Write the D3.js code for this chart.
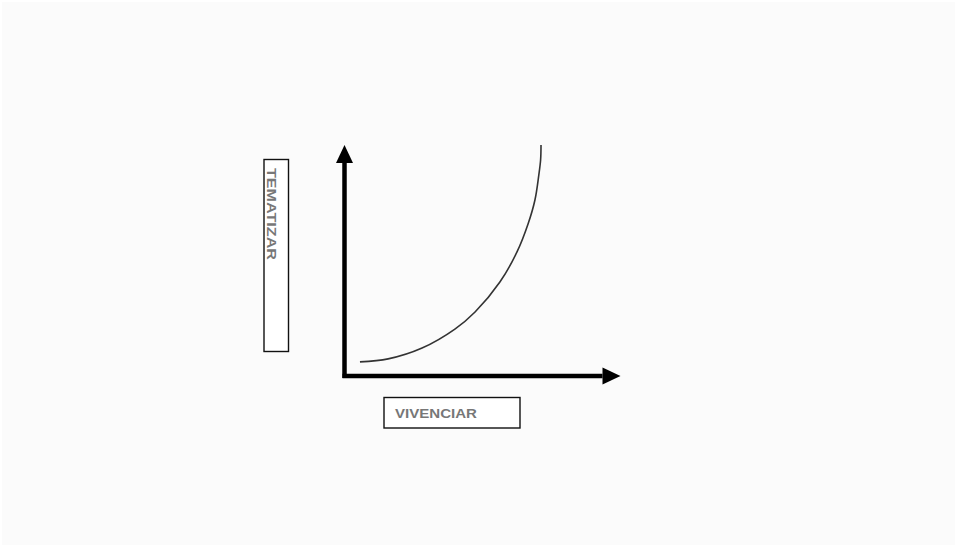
<!DOCTYPE html>
<html>
<head>
<meta charset="utf-8">
<script src="https://cdn.jsdelivr.net/npm/d3@7"></script>
<style>
  html, body { margin: 0; padding: 0; background: #fff; }
  #chart { display: block; }
</style>
</head>
<body>
<svg id="chart" width="957" height="547"></svg>
<script>
'use strict';

// axis labels
const xLabel = "VIVENCIAR",
      yLabel = "TEMATIZAR";

// curve (axis units 0..100)
const curveX = [5.6, 15.8, 28.1, 40.0, 47.3, 56.3, 62.5, 66.5, 69.0, 70.4, 71.05, 71.2];
const curveY = [6.1, 7.4, 12.1, 20.3, 27.7, 40.7, 53.7, 65.8, 76.2, 87.0, 93.5, 100];

const width = 957, height = 547;
const svg = d3.select("#chart");

svg.append("rect")
  .attr("x", 2).attr("y", 2)
  .attr("width", width - 4).attr("height", height - 4)
  .attr("fill", "#fbfbfb");

// 100 = arrow tips
const x = d3.scaleLinear([0, 100], [344.5, 620.5]),
      y = d3.scaleLinear([0, 100], [376, 145]);

const head = 18, half = 8.5;

// vertical axis
svg.append("line")
  .attr("x1", x(0)).attr("x2", x(0))
  .attr("y1", y(0) + 2).attr("y2", y(100) + head)
  .attr("stroke", "#000").attr("stroke-width", 4.5);
svg.append("path")
  .attr("d", `M${x(0)},${y(100)} L${x(0) + half},${y(100) + head} L${x(0) - half},${y(100) + head} Z`)
  .attr("fill", "#000");

// horizontal axis
svg.append("line")
  .attr("x1", x(0) - 2).attr("x2", x(100) - head)
  .attr("y1", y(0)).attr("y2", y(0))
  .attr("stroke", "#000").attr("stroke-width", 4.5);
svg.append("path")
  .attr("d", `M${x(100)},${y(0)} L${x(100) - head},${y(0) - half} L${x(100) - head},${y(0) + half} Z`)
  .attr("fill", "#000");

// curve
const line = d3.line()
  .x(d => x(d[0]))
  .y(d => y(d[1]))
  .curve(d3.curveCatmullRom.alpha(0.5));
svg.append("path")
  .datum(d3.zip(curveX, curveY))
  .attr("d", line)
  .attr("fill", "none")
  .attr("stroke", "#333")
  .attr("stroke-width", 1.6);

// y label box
svg.append("rect")
  .attr("x", 264).attr("y", 159.5)
  .attr("width", 24.5).attr("height", 192)
  .attr("fill", "#fff")
  .attr("stroke", "#111").attr("stroke-width", 1.4);
svg.append("text")
  .attr("transform", "translate(266.5,168) rotate(90)")
  .attr("font-family", "Liberation Sans, Arial, sans-serif")
  .attr("font-weight", "bold")
  .attr("font-size", 13)
  .attr("fill", "#777")
  .attr("textLength", 92)
  .attr("lengthAdjust", "spacingAndGlyphs")
  .text(yLabel);

// x label box
svg.append("rect")
  .attr("x", 384).attr("y", 397.5)
  .attr("width", 136).attr("height", 30.5)
  .attr("fill", "#fff")
  .attr("stroke", "#111").attr("stroke-width", 1.4);
svg.append("text")
  .attr("x", 395).attr("y", 418)
  .attr("font-family", "Liberation Sans, Arial, sans-serif")
  .attr("font-weight", "bold")
  .attr("font-size", 13)
  .attr("fill", "#777")
  .attr("textLength", 82)
  .attr("lengthAdjust", "spacingAndGlyphs")
  .text(xLabel);
</script>
</body>
</html>
